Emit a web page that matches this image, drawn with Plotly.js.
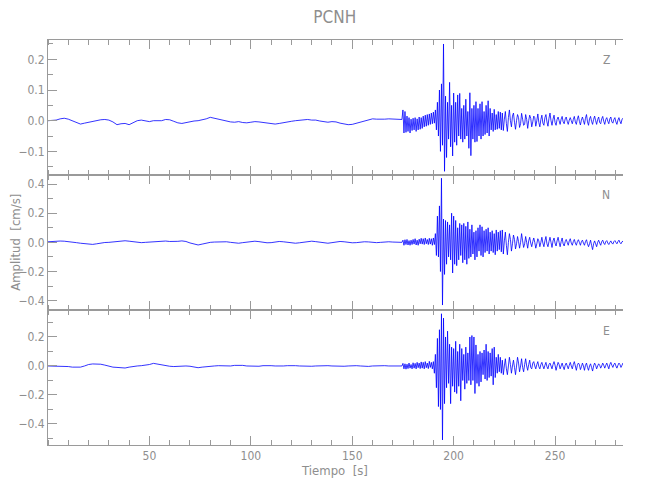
<!DOCTYPE html>
<html>
<head>
<meta charset="utf-8">
<script src="https://cdn.plot.ly/plotly-3.0.1.min.js"></script>
<style>html,body{margin:0;padding:0;background:#fff;}#chart{width:650px;height:500px;}</style>
</head>
<body>
<div id="chart"></div>
<script>
// Sampling grid: quiet part every 2 s (0..174), active part every 0.5 s (174.5..284)
const quietStart = 0, quietStep = 2;
const activeStart = 174.5, activeStep = 0.5;

const componentLabels = ["Z", "N", "E"];
const xTickVals = [50, 100, 150, 200, 250];

const zQuiet = [
 0.0, 0.0, 0.002, 0.006, 0.008, 0.005, 0.0, -0.006, -0.011, -0.008,
 -0.005, -0.004, 0.0, 0.003, 0.004, 0.002, -0.004, -0.013, -0.01, -0.009,
 -0.013, -0.006, 0.0, 0.002, 0.0, -0.003, 0.0, 0.001, 0.0, 0.004,
 0.003, -0.002, -0.007, -0.009, -0.006, -0.002, -0.001, 0.0, 0.002, 0.006,
 0.011, 0.008, 0.003, 0.0, -0.002, -0.004, -0.005, -0.003, -0.006, -0.007,
 -0.005, -0.003, -0.004, -0.006, -0.008, -0.01, -0.011, -0.009, -0.006, -0.005,
 -0.002, 0.0, 0.002, 0.004, 0.004, 0.002, 0.002, -0.001, -0.004, -0.005,
 -0.003, -0.004, -0.008, -0.011, -0.013, -0.012, -0.008, -0.004, 0.0, 0.003,
 0.006, 0.005, 0.004, 0.005, 0.006, 0.005, 0.004, 0.003
];
const zActive = [
 0.004, 0.035, -0.04, 0.03, -0.038, 0.015, -0.035, 0.01, -0.04, 0.005,
 -0.032, 0.008, -0.03, 0.01, -0.035, 0.006, -0.03, 0.012, -0.028, 0.01,
 -0.025, 0.015, -0.02, 0.018, -0.018, 0.02, -0.015, 0.022, -0.012, 0.025,
 -0.01, 0.028, -0.008, 0.035, -0.03, 0.06, -0.05, 0.1, -0.1, 0.12,
 -0.08, 0.25, -0.165, 0.08, -0.12, 0.06, -0.06, 0.125, -0.085, 0.05,
 -0.115, 0.09, -0.07, 0.06, -0.08, 0.084, -0.05, 0.089, -0.06, 0.04,
 -0.07, 0.05, -0.06, 0.07, -0.05, 0.03, -0.09, 0.091, -0.114, 0.04,
 -0.06, 0.05, -0.07, 0.062, -0.068, 0.04, -0.05, 0.055, -0.06, 0.062,
 -0.05, 0.03, -0.045, 0.05, -0.04, 0.065, -0.05, 0.04, -0.03, 0.025,
 -0.035, 0.037, -0.03, 0.02, -0.028, 0.03, -0.025, 0.028, -0.03, 0.025,
 -0.032, 0.005, 0.03, -0.01, -0.035, 0.01, 0.035, 0.0, -0.02, 0.015,
 0.025, -0.005, -0.028, 0.0, 0.02, 0.01, -0.022, -0.01, 0.024, 0.005,
 -0.015, -0.012, 0.02, 0.004, -0.025, 0.0, 0.018, 0.008, -0.02, -0.004,
 0.015, 0.01, -0.018, 0.0, 0.022, -0.006, -0.02, 0.004, 0.018, -0.008,
 -0.015, 0.01, 0.02, -0.004, -0.018, 0.008, 0.025, 0.0, -0.015, 0.005,
 0.018, -0.006, -0.015, 0.004, 0.012, 0.0, -0.012, 0.005, 0.014, -0.004,
 -0.01, 0.006, 0.012, -0.002, -0.012, 0.002, 0.01, 0.0, -0.01, 0.004,
 0.014, -0.004, -0.012, 0.006, 0.016, -0.002, -0.014, 0.002, 0.012, 0.0,
 -0.012, 0.008, 0.02, -0.004, -0.015, 0.006, 0.014, -0.002, -0.012, 0.004,
 0.015, 0.0, -0.012, 0.004, 0.012, -0.006, -0.01, 0.006, 0.014, -0.002,
 -0.012, 0.004, 0.01, -0.002, -0.01, 0.006, 0.012, -0.004, -0.008, 0.004,
 0.01, -0.004, -0.012, 0.002, 0.01, -0.002, -0.01, 0.004, 0.008, -0.004
];

const nQuiet = [
 0.004, 0.007, 0.008, 0.009, 0.008, 0.006, 0.002, -0.002, -0.006, -0.01,
 -0.013, -0.014, -0.01, -0.004, -0.001, 0.0, 0.003, 0.006, 0.01, 0.011,
 0.008, 0.003, 0.0, -0.002, 0.0, 0.002, 0.004, 0.006, 0.008, 0.009,
 0.006, 0.004, 0.007, 0.01, 0.006, -0.004, -0.012, -0.018, -0.012, -0.004,
 0.0, 0.002, 0.004, 0.006, 0.004, 0.0, -0.004, -0.006, -0.002, 0.003,
 0.006, 0.008, 0.005, 0.0, -0.003, -0.002, 0.002, 0.006, 0.004, 0.0,
 -0.004, -0.006, -0.003, 0.002, 0.006, 0.008, 0.005, 0.0, -0.004, -0.006,
 -0.002, 0.003, 0.006, 0.004, 0.0, -0.003, -0.002, 0.002, 0.004, 0.003,
 0.0, -0.002, 0.0, 0.003, 0.004, 0.002, 0.0, 0.0
];
const nActive = [
 0.0, 0.015, -0.02, 0.018, -0.015, 0.02, -0.018, 0.012, -0.02, 0.015,
 -0.015, 0.02, -0.012, 0.025, -0.018, 0.015, -0.02, 0.022, -0.01, 0.028,
 -0.012, 0.025, -0.015, 0.03, -0.01, 0.02, -0.015, 0.028, -0.012, 0.025,
 -0.02, 0.03, -0.015, 0.06, -0.09, 0.18, -0.1, 0.25, -0.2, 0.44,
 -0.43, 0.16, -0.22, 0.15, -0.15, 0.14, -0.1, 0.12, -0.12, 0.2,
 -0.21, 0.18, -0.15, 0.15, -0.16, 0.1, -0.12, 0.13, -0.09, 0.12,
 -0.14, 0.13, -0.12, 0.11, -0.15, 0.14, -0.11, 0.09, -0.1, 0.12,
 -0.08, 0.07, -0.12, 0.08, -0.1, 0.1, -0.06, 0.12, -0.09, 0.107,
 -0.1, 0.08, -0.07, 0.09, -0.06, 0.1, -0.08, 0.07, -0.06, 0.08,
 -0.07, 0.06, -0.085, 0.085, -0.06, 0.07, -0.05, 0.08, -0.065, 0.085,
 -0.08, 0.01, 0.07, -0.02, -0.085, 0.0, 0.06, 0.02, -0.06, -0.01,
 0.05, 0.02, -0.045, -0.01, 0.04, 0.005, -0.04, 0.0, 0.06, 0.01,
 -0.035, -0.01, 0.04, 0.0, -0.04, 0.01, 0.035, -0.005, -0.03, 0.005,
 0.03, 0.0, -0.04, -0.01, 0.025, 0.01, -0.03, 0.0, 0.035, -0.005,
 -0.03, 0.01, 0.04, -0.01, -0.03, 0.005, 0.035, 0.0, -0.035, 0.01,
 0.03, -0.005, -0.025, 0.01, 0.035, 0.0, -0.03, 0.005, 0.03, -0.01,
 -0.025, 0.005, 0.02, 0.0, -0.02, 0.01, 0.025, -0.005, -0.02, 0.005,
 0.02, -0.005, -0.02, 0.005, 0.018, 0.0, -0.02, 0.005, 0.015, -0.005,
 -0.02, 0.005, 0.018, -0.01, -0.03, -0.01, 0.015, -0.02, -0.05, -0.01,
 0.01, -0.01, -0.03, 0.0, 0.015, -0.005, -0.02, 0.005, 0.015, -0.005,
 -0.015, 0.005, 0.012, -0.005, -0.015, 0.0, 0.01, -0.005, -0.012, 0.005,
 0.012, 0.0, -0.01, 0.005, 0.015, -0.002, -0.01, 0.004, 0.008, -0.004
];

const eQuiet = [
 0.0, 0.0, 0.0, 0.0, -0.001, -0.004, -0.008, -0.01, -0.008, 0.0,
 0.01, 0.014, 0.014, 0.012, 0.006, -0.002, -0.008, -0.01, -0.012, -0.014,
 -0.008, -0.002, 0.0, 0.002, 0.004, 0.01, 0.018, 0.012, 0.006, 0.002,
 -0.002, -0.004, -0.002, -0.003, 0.0, -0.002, -0.008, -0.012, -0.008, -0.004,
 -0.002, 0.0, 0.002, 0.0, -0.002, 0.0, 0.004, 0.006, 0.004, 0.0,
 -0.002, -0.004, -0.002, 0.002, 0.004, 0.002, 0.0, -0.002, 0.0, 0.002,
 0.004, 0.002, 0.0, -0.002, -0.004, -0.002, 0.0, 0.002, 0.004, 0.002,
 0.0, -0.002, -0.004, -0.002, 0.0, 0.002, 0.002, 0.0, -0.002, -0.003,
 0.0, 0.002, 0.003, 0.002, 0.0, -0.001, 0.0, 0.0
];
const eActive = [
 0.0, 0.018, -0.02, 0.015, -0.022, 0.012, -0.018, 0.02, -0.015, 0.01,
 -0.02, 0.022, -0.015, 0.018, -0.02, 0.025, -0.012, 0.02, -0.018, 0.028,
 -0.015, 0.025, -0.02, 0.03, -0.012, 0.02, -0.018, 0.032, -0.01, 0.025,
 -0.02, 0.03, -0.05, 0.08, -0.15, 0.19, -0.28, 0.25, -0.3, 0.36,
 -0.51, 0.33, -0.26, 0.2, -0.15, 0.24, -0.12, 0.15, -0.26, 0.13,
 -0.14, 0.12, -0.18, 0.17, -0.19, 0.1, -0.14, 0.15, -0.24, 0.12,
 -0.1, 0.08, -0.16, 0.13, -0.12, 0.09, -0.1, 0.2, -0.13, 0.21,
 -0.1, 0.2, -0.19, 0.145, -0.12, 0.08, -0.14, 0.1, -0.11, 0.09,
 -0.06, 0.11, -0.09, 0.15, -0.1, 0.1, -0.08, 0.09, -0.07, 0.12,
 -0.13, 0.13, -0.08, 0.06, -0.05, 0.08, -0.04, 0.06, -0.05, 0.04,
 -0.06, 0.0, 0.05, -0.02, -0.06, 0.0, 0.06, 0.01, -0.05, 0.0,
 0.04, -0.01, -0.06, 0.0, 0.06, 0.02, -0.04, 0.0, 0.05, -0.01,
 -0.04, 0.01, 0.05, 0.0, -0.03, 0.01, 0.04, -0.01, -0.02, 0.02,
 0.03, 0.0, -0.02, 0.01, 0.03, -0.005, -0.02, 0.01, 0.025, 0.0,
 -0.02, 0.005, 0.025, -0.005, -0.02, 0.01, 0.02, 0.0, -0.02, 0.01,
 0.03, 0.005, -0.03, 0.0, 0.025, 0.01, -0.02, 0.0, 0.02, -0.005,
 -0.025, 0.005, 0.02, 0.0, -0.02, 0.005, 0.025, 0.0, -0.02, 0.01,
 0.03, 0.0, -0.03, 0.005, 0.02, 0.01, -0.025, -0.005, 0.02, 0.0,
 -0.03, 0.005, 0.02, -0.01, -0.03, 0.0, 0.015, -0.01, -0.035, 0.0,
 0.02, 0.005, -0.02, 0.0, 0.015, 0.005, -0.015, 0.0, 0.02, 0.005,
 -0.015, 0.005, 0.02, 0.0, -0.02, 0.01, 0.025, 0.005, -0.01, 0.01,
 0.02, 0.0, -0.015, 0.005, 0.02, 0.01, -0.01, 0.005, 0.02, 0.005
];

function timeAxis(nQ, nA) {
  const t = [];
  for (let i = 0; i < nQ; i++) t.push(quietStart + i * quietStep);
  for (let i = 0; i < nA; i++) t.push(activeStart + i * activeStep);
  return t;
}

const series = [
  {q: zQuiet, a: zActive, xa: "x3", ya: "y"},
  {q: nQuiet, a: nActive, xa: "x2", ya: "y2"},
  {q: eQuiet, a: eActive, xa: "x", ya: "y3"}
];

const traces = series.map(s => ({
  type: "scatter", mode: "lines",
  x: timeAxis(s.q.length, s.a.length),
  y: s.q.concat(s.a),
  xaxis: s.xa, yaxis: s.ya,
  line: {color: "#0000ff", width: 0.8},
  hoverinfo: "skip", showlegend: false
}));

const axisGray = "#9a9a9a";
const textGray = "#8e8e8e";
const fontFam = "Liberation Sans Narrow, DejaVu Sans Condensed, sans-serif";
const tickFont = {family: fontFam, size: 12, color: textGray};

function xAx(anchor, labels) {
  return {
    anchor: anchor, range: [-0.5, 283.5], matches: anchor === "y3" ? undefined : "x",
    tickmode: "array", tickvals: xTickVals, showticklabels: labels,
    ticks: "inside", ticklen: 9, tickcolor: axisGray, tickwidth: 1,
    minor: {dtick: 10, tick0: 0, ticks: "inside", ticklen: 5, tickcolor: axisGray},
    showline: true, linecolor: axisGray, linewidth: 1, mirror: "ticks",
    showgrid: false, zeroline: false, tickfont: tickFont
  };
}
function yAx(domain, range, dtick, mdtick) {
  return {
    domain: domain, range: range, dtick: dtick, tick0: 0, tickformat: ".1f",
    ticks: "inside", ticklen: 9, tickcolor: axisGray,
    minor: {dtick: mdtick, tick0: 0, ticks: "inside", ticklen: 5, tickcolor: axisGray},
    showline: true, linecolor: axisGray, linewidth: 1, mirror: "ticks",
    showgrid: false, zeroline: false, tickfont: tickFont, anchor: "free", position: 0
  };
}

const xMain = xAx("y3", true);
xMain.title = {text: "Tiempo  [s]", font: {family: fontFam, size: 13, color: textGray}, standoff: 0};

function compLabel(text, y) {
  return {text: text, xref: "paper", yref: "paper", x: 0.971, y: y, xanchor: "center", yanchor: "middle",
          showarrow: false, font: {family: fontFam, size: 12, color: textGray}};
}

const layout = {
  width: 650, height: 500,
  margin: {l: 47, r: 27, t: 40, b: 55},
  paper_bgcolor: "#fff", plot_bgcolor: "#fff",
  title: {text: "PCNH", font: {family: fontFam, size: 17, color: textGray}, x: 0.515, xanchor: "center", y: 0.965, yanchor: "middle"},
  xaxis: xMain,
  xaxis2: xAx("y2", false),
  xaxis3: xAx("y", false),
  yaxis: yAx([2/3, 1], [-0.177, 0.263], 0.1, 0.05),
  yaxis2: yAx([1/3, 2/3], [-0.464, 0.462], 0.2, 0.1),
  yaxis3: yAx([0, 1/3], [-0.545, 0.386], 0.2, 0.1),
  annotations: [
    {text: "Amplitud  [cm/s]", xref: "paper", yref: "paper", x: -0.055, y: 0.5, textangle: -90, showarrow: false, xanchor: "center", yanchor: "middle", font: {family: fontFam, size: 13, color: textGray}},
    compLabel(componentLabels[0], 0.951),
    compLabel(componentLabels[1], 0.617),
    compLabel(componentLabels[2], 0.281)
  ]
};

Plotly.newPlot("chart", traces, layout, {displayModeBar: false, staticPlot: true});
</script>
</body>
</html>
